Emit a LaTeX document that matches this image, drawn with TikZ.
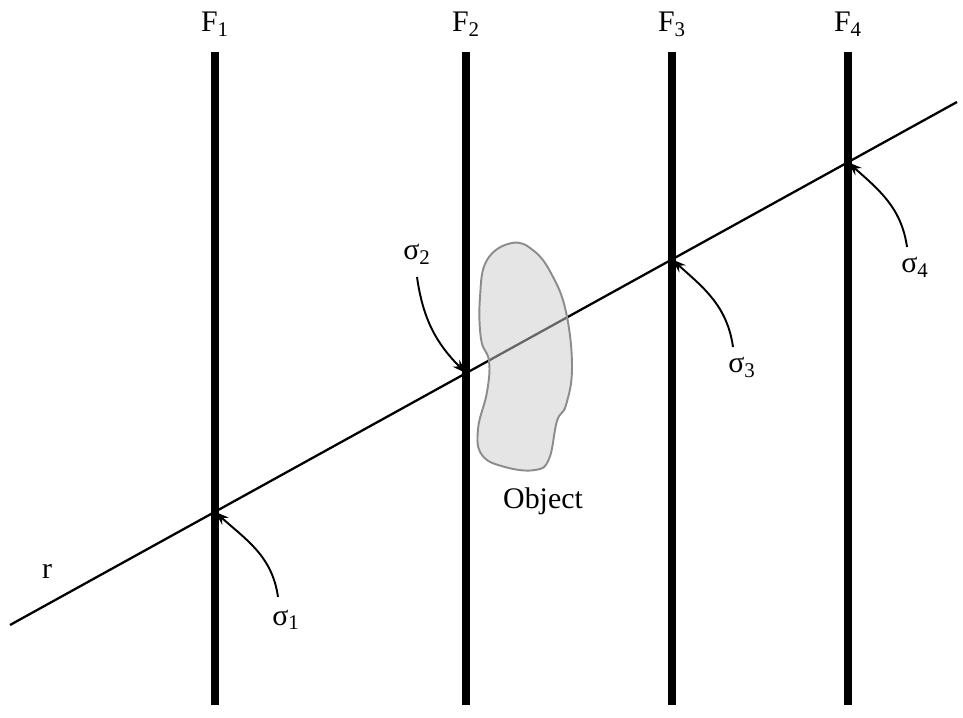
\documentclass[tikz,border=0pt]{standalone}
\usepackage{fontspec}
\setmainfont{Liberation Serif}
\usepackage{tikz}
\usetikzlibrary{
  arrows.meta,
  positioning,
  calc
}
\definecolor{ObjEdge}{RGB}{140,140,140}
\definecolor{ObjFill}{RGB}{204,204,204}
\tikzset{
  filterline/.style={line width=4.5pt,draw=black},
  rayline/.style={line width=1.3pt,draw=black},
  lbl/.style={font=\fontsize{17}{20}\selectfont,inner sep=0pt,anchor=base},
  sarrow/.style={-{Stealth[length=8pt,width=5.5pt]},line width=1.1pt,draw=black},
  objshape/.style={draw=ObjEdge,line width=1.1pt,fill=ObjFill,fill opacity=0.5}
}

\begin{document}
\begin{tikzpicture}[x=0.02cm,y=0.02cm]
  \useasboundingbox (0,0) rectangle (963,717);
  % filters
  \foreach \i/\xx in {1/215,2/466,3/672,4/848}{
    \coordinate (F\i t) at (\xx,665);
    \coordinate (F\i b) at (\xx,12);
    \draw[filterline] (F\i t) -- (F\i b);
    \node[lbl] (F\i lbl) at (\xx,685) {F\textsubscript{\i}};
  }
  % ray
  \coordinate (ra) at (10,92);
  \coordinate (rb) at (957,615);
  \draw[rayline] (ra) -- (rb);
  \node[lbl] (rlbl) at (47,139) {r};
  \foreach \i in {1,...,4}
    \coordinate (s\i) at (intersection of ra--rb and F\i t--F\i b);
  % object
  \draw[objshape] plot[smooth cycle,tension=0.7] coordinates {
    (512,474) (487,457) (480,420) (481,378) (489,356) (487,325) (478,288)
    (482,262) (505,250) (535,247) (549,258) (557,296) (566,312) (572,350)
    (566,405) (552,442) (534,466)};
  \node[lbl] (objlbl) at (543,209) {Object};
  % sigma labels
  \node[lbl] (s1lbl) at (286,92) {σ\textsubscript{1}};
  \node[lbl] (s2lbl) at (417,457) {σ\textsubscript{2}};
  \node[lbl] (s3lbl) at (742,344) {σ\textsubscript{3}};
  \node[lbl] (s4lbl) at (915,444) {σ\textsubscript{4}};
  \draw[sarrow] ([shift={(-8,28)}]s1lbl.base) to[out=98,in=-42] (s1);
  \draw[sarrow] ([shift={(0,-17)}]s2lbl.base) to[out=-82,in=135] (s2);
  \draw[sarrow] ([shift={(-9,26)}]s3lbl.base) to[out=98,in=-42] (s3);
  \draw[sarrow] ([shift={(-8,26)}]s4lbl.base) to[out=98,in=-42] (s4);
\end{tikzpicture}
\end{document}
